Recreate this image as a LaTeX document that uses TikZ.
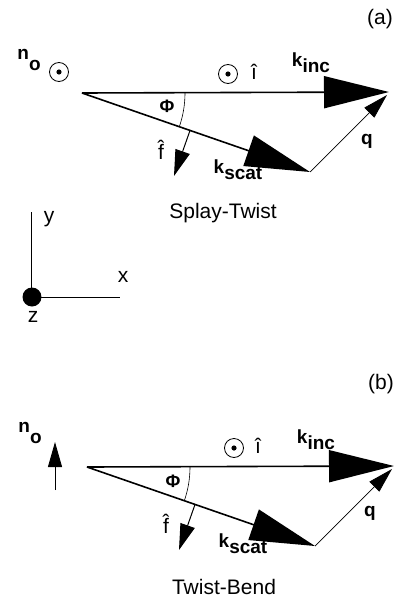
\documentclass[tikz,border=0pt]{standalone}
\usepackage{fontspec}
\setmainfont{Liberation Sans}
\usetikzlibrary{arrows.meta}
\newcommand{\kvec}[1]{\textbf{k}\raisebox{-6pt}{\textbf{#1}}}
\newcommand{\nvec}{\textbf{n}\raisebox{-11pt}{\textbf{o}}}

\begin{document}
\begin{tikzpicture}[
  x=1pt, y=-1pt,
  every node/.style={font=\fontsize{21}{25}\selectfont, inner sep=0pt},
  vec/.style={font=\fontsize{19}{22}\selectfont\bfseries},
  angle/.style={font=\fontsize{18}{20}\selectfont\bfseries},
  wave/.style={-{Triangle[length=65pt, width=32pt]}, line width=1.6pt},
  unitvec/.style={-{Triangle[length=26pt, width=15pt]}, line width=1pt},
  thinvec/.style={-{Triangle[length=25pt, width=14pt]}, line width=0.7pt},
  outof/.style={circle, draw, line width=0.8pt, minimum size=19pt, inner sep=0pt,
    path picture={\fill (path picture bounding box.center) circle[radius=2.6pt];}}
]
\useasboundingbox (0,0) rectangle (396,605);

% Panel (a): splay-twist geometry.
\node (tag a) at (380,19) {(a)};
\node[vec] (no a) at (29,60) {\nvec};
\node[outof] (dot a) at (59,72) {};
\node[outof] (idot a) at (228,74) {};
\node (i a) at (254,72) {î};

\coordinate (O a) at (82,93);
\coordinate (I a) at (389,92);
\coordinate (S a) at (310,172);
\coordinate (F a) at (190,130.5);
\coordinate (f tip a) at (174,176);
\coordinate (q tip a) at (387,95);

\draw[wave] (O a) -- (I a);
\draw[wave] (O a) -- (S a);
\draw[unitvec] (F a) -- (f tip a);
\draw[thinvec] (S a) -- (q tip a);
\draw[line width=0.6pt] (O a) ++(103,0) arc[start angle=0, end angle=19.1, radius=103];

\node[angle] (phi a) at (167,106) {Φ};
\node (f a) at (161,150) {\^{f}};
\node[vec] (kinc a) at (311,63) {\kvec{inc}};
\node[vec] (kscat a) at (238,170) {\kvec{scat}};
\node[vec] (q a) at (367,141) {q};
\node (name a) at (223,213) {Splay-Twist};

% Lab frame axes.
\node[circle, fill, minimum size=19pt] (zdot) at (32,297) {};
\coordinate (ytip) at (31,212);
\coordinate (xtip) at (120,297);
\draw[line width=1pt] (ytip) |- (xtip);
\node (y lab) at (49,219) {y};
\node (x lab) at (123,277) {x};
\node (z lab) at (33,317) {z};

% Panel (b): twist-bend geometry.
\node (tag b) at (381,384) {(b)};
\node[vec] (no b) at (30,433) {\nvec};
\coordinate (no tail b) at (55,490);
\coordinate (no tip b) at (55,442);
\draw[thinvec, line width=0.9pt] (no tail b) -- (no tip b);
\node[outof] (idot b) at (234,448) {};
\node (i b) at (258,446) {î};

\coordinate (O b) at (87,467);
\coordinate (I b) at (394,466);
\coordinate (S b) at (315,546);
\coordinate (F b) at (195,504.5);
\coordinate (f tip b) at (179,550);
\coordinate (q tip b) at (392,469);

\draw[wave] (O b) -- (I b);
\draw[wave] (O b) -- (S b);
\draw[unitvec] (F b) -- (f tip b);
\draw[thinvec] (S b) -- (q tip b);
\draw[line width=0.6pt] (O b) ++(103,0) arc[start angle=0, end angle=19.1, radius=103];

\node[angle] (phi b) at (173,481) {Φ};
\node (f b) at (166,524) {\^{f}};
\node[vec] (kinc b) at (316,440) {\kvec{inc}};
\node[vec] (kscat b) at (243,544) {\kvec{scat}};
\node[vec] (q b) at (370,513) {q};
\node (name b) at (224,587) {Twist-Bend};
\end{tikzpicture}
\end{document}
